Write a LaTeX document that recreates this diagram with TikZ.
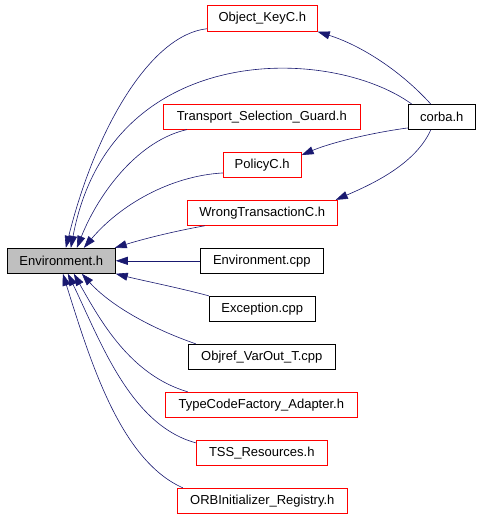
\documentclass[tikz,border=0pt]{standalone}
\usepackage{fontspec}
\setmainfont{Liberation Sans}
\usetikzlibrary{arrows.meta}
\definecolor{edgeblue}{HTML}{191970}
\definecolor{envgray}{HTML}{BFBFBF}
\tikzset{
  box/.style={draw, rectangle, inner sep=0pt, line width=0.9pt, minimum height=25pt,
    font=\fontsize{13}{15}\selectfont},
  redbox/.style={box, draw=red},
  blackbox/.style={box, draw=black},
  dep/.style={draw=edgeblue, line width=0.6pt, -{Triangle[length=12pt,width=8pt]}, fill=none}
}
\begin{document}
\begin{tikzpicture}[x=1pt,y=-1pt]
\useasboundingbox (0,0) rectangle (480,517);
% nodes
\node[redbox, minimum width=110pt, minimum height=26pt] (ok) at (262.3,18.3) {Object\_KeyC.h};
\node[blackbox, minimum width=67pt] (corba) at (441.7,117) {corba.h};
\node[redbox, minimum width=197pt] (tsg) at (261.8,116.7) {Transport\_Selection\_Guard.h};
\node[redbox, minimum width=78pt] (pol) at (262.2,165) {PolicyC.h};
\node[redbox, minimum width=150pt] (wt) at (262.3,212.8) {WrongTransactionC.h};
\node[box, fill=envgray, minimum width=108pt] (env) at (61.3,260.8) {Environment.h};
\node[blackbox, minimum width=123pt] (ecpp) at (261.8,260.8) {Environment.cpp};
\node[blackbox, minimum width=106pt] (exc) at (262.3,308.8) {Exception.cpp};
\node[blackbox, minimum width=147pt] (objref) at (261.8,356.8) {Objref\_VarOut\_T.cpp};
\node[redbox, minimum width=192pt] (tcf) at (261.3,404.8) {TypeCodeFactory\_Adapter.h};
\node[redbox, minimum width=131pt] (tss) at (261.8,452.8) {TSS\_Resources.h};
\node[redbox, minimum width=170pt] (orb) at (262.3,500.8) {ORBInitializer\_Registry.h};
% edges into Environment.h from above
\draw[dep] ([yshift=3pt]ok.south west) .. controls (150,35) and (95,130) .. ([xshift=59pt]env.north west);
\draw[dep] ([xshift=4pt]corba.north west) .. controls (330,45) and (110,40) .. ([xshift=64pt]env.north west);
\draw[dep] ([xshift=24pt]tsg.south west) .. controls (140,140) and (100,190) .. ([xshift=70pt]env.north west);
\draw[dep] ([yshift=5pt]pol.south west) .. controls (170,176) and (120,205) .. ([xshift=77pt]env.north west);
\draw[dep] ([xshift=18pt]wt.south west) .. controls (170,232) and (140,240) .. ([xshift=-1pt]env.north east);
% corba edges
\draw[dep] ([xshift=23pt]corba.north west) .. controls (400,70) and (360,45) .. (ok.south east);
\draw[dep] ([yshift=2pt]corba.south west) .. controls (370,133) and (330,143) .. ([yshift=-3pt]pol.north east);
\draw[dep] ([xshift=23pt]corba.south west) .. controls (415,165) and (370,185) .. ([xshift=-2pt]wt.north east);
% edges into Environment.h from the right and below
\draw[dep] (ecpp.west) -- (env.east);
\draw[dep] (exc.north west) .. controls (180,288) and (140,280) .. (env.south east);
\draw[dep] ([xshift=8pt]objref.north west) .. controls (150,328) and (110,305) .. ([xshift=75pt]env.south west);
\draw[dep] ([xshift=23pt]tcf.north west) .. controls (130,375) and (100,320) .. ([xshift=67pt]env.south west);
\draw[dep] ([yshift=-3pt]tss.north west) .. controls (130,425) and (100,340) .. ([xshift=61pt]env.south west);
\draw[dep] ([xshift=6pt]orb.north west) .. controls (120,460) and (90,360) .. ([xshift=56pt]env.south west);
\end{tikzpicture}
\end{document}
